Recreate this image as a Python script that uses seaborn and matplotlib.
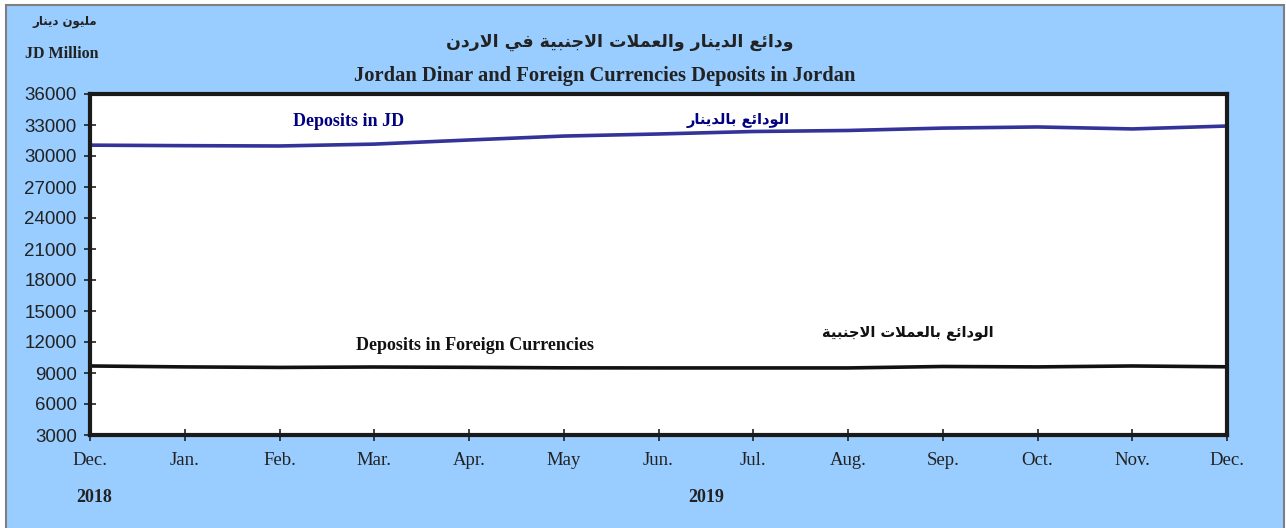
import pandas as pd
import seaborn as sns
import matplotlib.pyplot as plt
from matplotlib.patches import Rectangle

# Monthly deposits, JD million (Dec 2018 .. Dec 2019)
months = ['Dec.', 'Jan.', 'Feb.', 'Mar.', 'Apr.', 'May', 'Jun.', 'Jul.',
          'Aug.', 'Sep.', 'Oct.', 'Nov.', 'Dec.']
deposits_jd = [31050, 31000, 30970, 31150, 31550, 31930, 32130, 32370,
               32470, 32700, 32810, 32620, 32900]
deposits_fc = [9680, 9590, 9540, 9580, 9550, 9500, 9490, 9490,
               9490, 9630, 9590, 9680, 9600]
y_ticks = [3000, 6000, 9000, 12000, 15000, 18000, 21000, 24000, 27000,
           30000, 33000, 36000]

# Arabic text has to be shaped by hand (matplotlib does no shaping / bidi)
# letter -> (isolated presentation form, joins to the following letter)
AR_FORMS = {
    'ا': (0xFE8D, False), 'ب': (0xFE8F, True), 'ة': (0xFE93, False),
    'ت': (0xFE95, True), 'ج': (0xFE9D, True), 'د': (0xFEA9, False),
    'ر': (0xFEAD, False), 'ع': (0xFEC9, True), 'ف': (0xFED1, True),
    'ل': (0xFEDD, True), 'م': (0xFEE1, True), 'ن': (0xFEE5, True),
    'و': (0xFEED, False), 'ي': (0xFEF1, True), 'ئ': (0xFE89, True),
}


def shape_arabic(text):
    out = []
    prev_joins = False
    i = 0
    while i < len(text):
        ch = text[i]
        if ch not in AR_FORMS:
            out.append(ch)
            prev_joins = False
            i += 1
            continue
        # lam-alef ligature
        if ch == 'ل' and i + 1 < len(text) and text[i + 1] == 'ا':
            out.append('\uFEFC' if prev_joins else '\uFEFB')
            prev_joins = False
            i += 2
            continue
        base, dual = AR_FORMS[ch]
        nxt = text[i + 1] if i + 1 < len(text) else ''
        next_joins = dual and nxt in AR_FORMS
        if prev_joins and next_joins:
            code = base + 3
        elif prev_joins:
            code = base + 1
        elif next_joins:
            code = base + 2
        else:
            code = base
        out.append(chr(code))
        prev_joins = next_joins
        i += 1
    return ''.join(reversed(out))


df = pd.DataFrame({
    'pos': list(range(len(months))) * 2,
    'value': deposits_jd + deposits_fc,
    'series': ['JD'] * len(months) + ['FC'] * len(months),
})

sns.set_style('white')
plt.rcParams['font.family'] = ['Liberation Serif', 'DejaVu Sans']

fig = plt.figure(figsize=(12.86, 5.28), dpi=100, facecolor='white')
fig.patches.append(Rectangle((6 / 1286, -0.02), 1278 / 1286, 1.02 - 5 / 528,
                             transform=fig.transFigure, facecolor='#99CCFF',
                             edgecolor='#7f7f7f', linewidth=1.5, zorder=-10))

ax = fig.add_axes([90 / 1286, 1 - 435 / 528, 1137 / 1286, 341 / 528])
ax.set_facecolor('white')

sns.lineplot(data=df, x='pos', y='value', hue='series',
             palette={'JD': '#333399', 'FC': '#111111'},
             linewidth=2.6, legend=False, ax=ax)

ax.set_xlim(0, len(months) - 1)
ax.set_ylim(3000, 36000)
ax.set_xticks(range(len(months)))
ax.set_xticklabels(months, fontsize=13.5, color='#222222')
ax.set_yticks(y_ticks)
ax.set_yticklabels([str(v) for v in y_ticks], fontsize=13.5,
                   family='Liberation Sans', color='#222222')
ax.tick_params(axis='both', direction='inout', length=9, width=1.2,
               colors='#222222', pad=5, bottom=True, left=True)
ax.tick_params(axis='x', pad=8)
for s in ax.spines.values():
    s.set_linewidth(3)
    s.set_color('#1a1a1a')
ax.set_xlabel('')
ax.set_ylabel('')

# titles and units
fig.text(620 / 1286, 1 - 42 / 528,
         shape_arabic('ودائع الدينار والعملات الاجنبية في الاردن'),
         family='DejaVu Sans', fontweight='bold', fontsize=12.5,
         ha='center', va='center', color='#222222')
fig.text(605 / 1286, 1 - 76 / 528,
         'Jordan Dinar and Foreign Currencies Deposits in Jordan',
         fontweight='bold', fontsize=14.8, ha='center', va='center',
         color='#222222')
fig.text(65 / 1286, 1 - 22 / 528, shape_arabic('مليون دينار'),
         family='DejaVu Sans', fontweight='bold', fontsize=8.5,
         ha='center', va='center', color='#222222')
fig.text(62 / 1286, 1 - 54 / 528, 'JD Million', fontweight='bold',
         fontsize=11.5, ha='center', va='center', color='#222222')

# series labels
fig.text(349 / 1286, 1 - 122 / 528, 'Deposits in JD', fontweight='bold',
         fontsize=13, ha='center', va='center', color='#000080')
fig.text(738 / 1286, 1 - 120 / 528, shape_arabic('الودائع بالدينار'),
         family='DejaVu Sans', fontweight='bold', fontsize=10.5,
         ha='center', va='center', color='#000080')
fig.text(475 / 1286, 1 - 345 / 528, 'Deposits in Foreign Currencies',
         fontweight='bold', fontsize=13, ha='center', va='center',
         color='#111111')
fig.text(908 / 1286, 1 - 333 / 528, shape_arabic('الودائع بالعملات الاجنبية'),
         family='DejaVu Sans', fontweight='bold', fontsize=10.5,
         ha='center', va='center', color='#111111')

# years
fig.text(94 / 1286, 1 - 498 / 528, '2018', fontweight='bold', fontsize=13,
         ha='center', va='center', color='#222222')
fig.text(706 / 1286, 1 - 498 / 528, '2019', fontweight='bold', fontsize=13,
         ha='center', va='center', color='#222222')

fig.savefig('out.png', dpi=100, facecolor='white')
